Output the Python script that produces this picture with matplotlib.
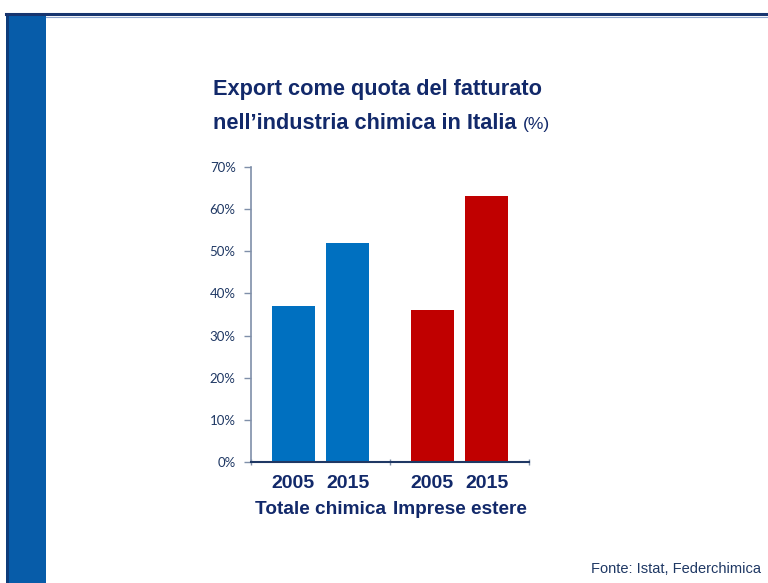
import matplotlib
matplotlib.use("Agg")
import matplotlib.pyplot as plt
from matplotlib.patches import Rectangle
from matplotlib.lines import Line2D
import numpy as np

categories = ["Totale chimica", "Imprese estere"]
years = ["2005", "2015"]
values = {"Totale chimica": [37, 52], "Imprese estere": [36, 63]}
group_colors = {"Totale chimica": "#0070C0", "Imprese estere": "#C00000"}
yticks = [0, 10, 20, 30, 40, 50, 60, 70]

W, H = 768, 583
fig = plt.figure(figsize=(W / 100, H / 100), dpi=100)
fig.patch.set_facecolor("white")

navy = "#12296A"
tick_navy = "#1F3864"

# decorative frame
fig.add_artist(Rectangle((8 / W, 0), 38 / W, 1 - 14 / H, transform=fig.transFigure,
                         facecolor="#075CA9", edgecolor="none"))
fig.add_artist(Rectangle((6 / W, 0), 2.5 / W, 1 - 14 / H, transform=fig.transFigure,
                         facecolor="#0D3C7A", edgecolor="none"))
fig.add_artist(Line2D([6 / W, 1], [1 - 14 / H, 1 - 14 / H], transform=fig.transFigure,
                      color="#17356F", lw=2.2))
fig.add_artist(Line2D([46 / W, 1], [1 - 16.5 / H, 1 - 16.5 / H], transform=fig.transFigure,
                      color="#8FA5CC", lw=0.8))

# axes: x from 251 to 529 px, y0 at 462.3, y70 at 166.7
x0, x1 = 251, 529
yb, yt = 462.3, 166.7
ax = fig.add_axes([x0 / W, 1 - yb / H, (x1 - x0) / W, (yb - yt) / H])
ax.set_xlim(-0.5, 1.5)
ax.set_ylim(0, 70)

offset = 0.196
width = 0.313
lab_font = ["Liberation Sans Narrow", "Liberation Sans"]
for i, cat in enumerate(categories):
    for j, yr in enumerate(years):
        xc = i + (-offset if j == 0 else offset)
        ax.bar(xc, values[cat][j], width=width, color=group_colors[cat], edgecolor="none")
        ax.text(xc, -6.0, yr, ha="center", va="baseline", fontsize=14, fontweight="bold",
                color=navy, family=lab_font)
    ax.text(i, -12.2, cat, ha="center", va="baseline", fontsize=13.7, fontweight="bold",
            color=navy, family=lab_font)

ax.set_yticks(yticks)
ax.set_yticklabels([f"{v}%" for v in yticks], fontsize=9.5, color=tick_navy,
                   family=["Lato", "DejaVu Sans"])
ax.set_xticks([-0.5, 0.5, 1.5])
ax.set_xticklabels([])
ax.tick_params(axis="y", direction="out", length=5, width=1, color="#7F8FA9", pad=6)
ax.tick_params(axis="x", direction="inout", length=5, width=1, color="#7F8FA9")
for s in ["top", "right"]:
    ax.spines[s].set_visible(False)
ax.spines["left"].set_color("#7F8FA9")
ax.spines["left"].set_linewidth(1.2)
ax.spines["bottom"].set_color(tick_navy)
ax.spines["bottom"].set_linewidth(1.5)
ax.set_facecolor("none")

# title
fig.text(213 / W, 1 - 95 / H, "Export come quota del fatturato", fontsize=15.7,
         fontweight="bold", color=navy, family="Liberation Sans", va="baseline")
t2 = fig.text(213 / W, 1 - 129 / H, "nell\u2019industria chimica in Italia ", fontsize=15.7,
              fontweight="bold", color=navy, family="Liberation Sans", va="baseline")
fig.canvas.draw()
bb = t2.get_window_extent()
fig.text(bb.x1 / W, 1 - 129 / H, "(%)", fontsize=12.5, color=navy,
         family="Liberation Sans", va="baseline")

fig.text(761 / W, 1 - 573 / H, "Fonte: Istat, Federchimica", fontsize=10.5,
         color=tick_navy, family="Liberation Sans", ha="right", va="baseline")

fig.savefig("out.png", dpi=100)
